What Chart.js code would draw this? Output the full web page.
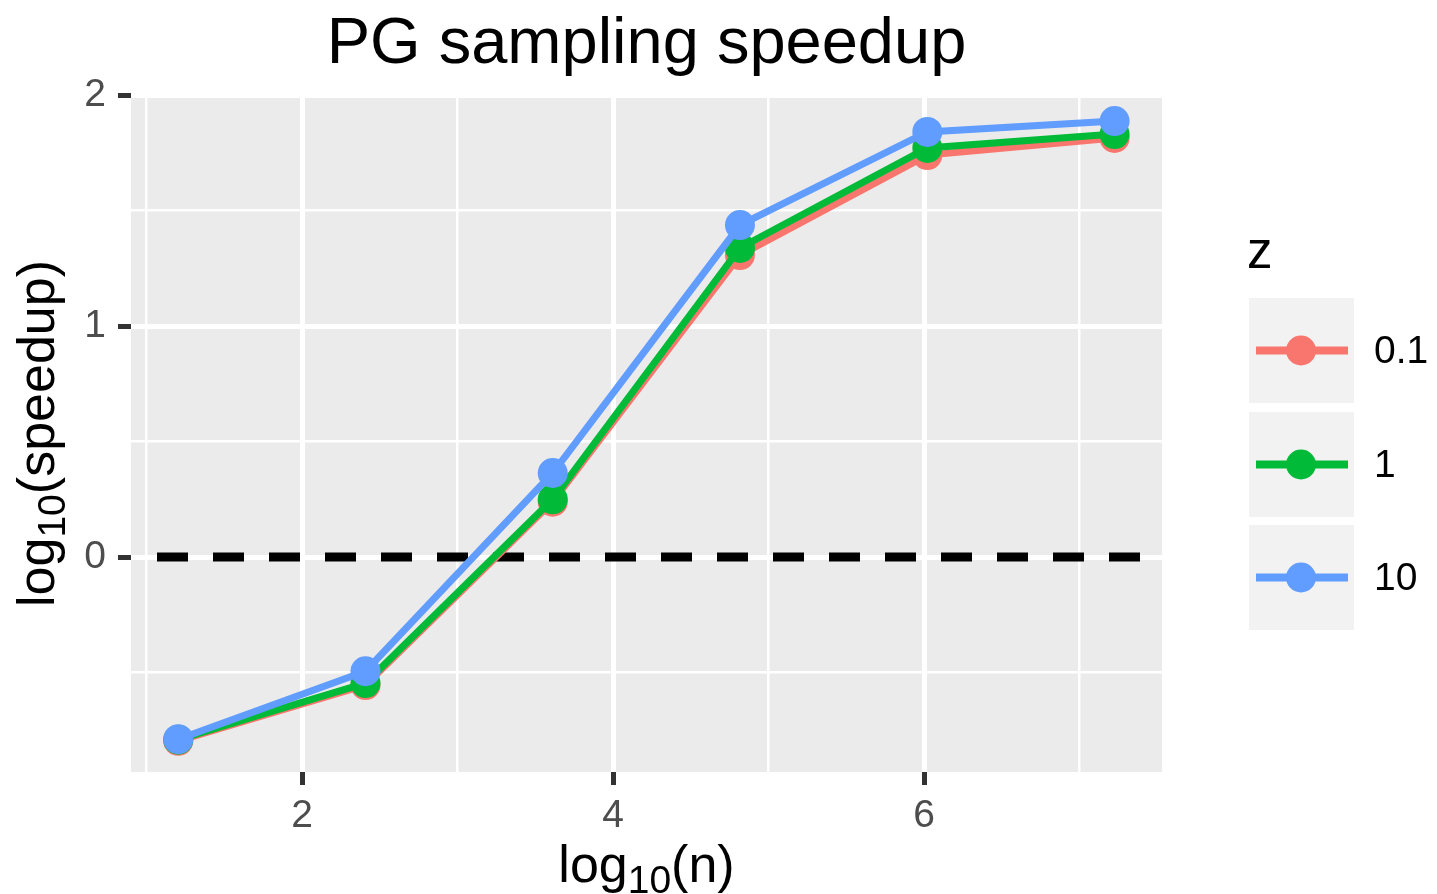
<!DOCTYPE html>
<html>
<head>
<meta charset="utf-8">
<script src="https://cdn.jsdelivr.net/npm/chart.js@4/dist/chart.umd.min.js"></script>
<style>
  html, body { margin: 0; padding: 0; background: #fff; }
  #wrap { width: 1437px; height: 894px; }
</style>
</head>
<body>
<div id="wrap"><canvas id="speedup" width="1437" height="894"></canvas></div>
<script>
// log10(n) for n = 2^4 ... 2^24
const logN = [1.204, 2.408, 3.612, 4.816, 6.021, 7.225];
const zLevels = ["0.1", "1", "10"];
const speedupZ01 = [-0.795, -0.554, 0.240, 1.307, 1.740, 1.814];
const speedupZ1 = [-0.790, -0.545, 0.250, 1.338, 1.771, 1.831];
const speedupZ10 = [-0.788, -0.494, 0.364, 1.437, 1.840, 1.887];
const xTickLabels = [2, 4, 6];
const yTickLabels = [0, 1, 2];

const colors = ["#F8766D", "#00BA38", "#619CFF"];
const FONT = "'Liberation Sans', Arial, Helvetica, sans-serif";

function toPoints(ys) {
    return logN.map((x, i) => ({ x: x, y: ys[i] }));
}

const seriesList = [speedupZ01, speedupZ1, speedupZ10];

// grey panel behind the grid
const panelBg = {
    id: "panelBg",
    beforeDraw(chart) {
        const { ctx, chartArea: a } = chart;
        ctx.save();
        ctx.fillStyle = "#EBEBEB";
        ctx.fillRect(a.left, a.top, a.right - a.left, a.bottom - a.top);
        ctx.restore();
    }
};

// dashed reference line at y = 0
const zeroLine = {
    id: "zeroLine",
    beforeDatasetsDraw(chart) {
        const { ctx, chartArea: a, scales } = chart;
        const y = scales.y.getPixelForValue(0);
        ctx.save();
        ctx.strokeStyle = "#000";
        ctx.lineWidth = 9;
        ctx.setLineDash([31, 25]);
        ctx.beginPath();
        ctx.moveTo(a.left + 26, y);
        ctx.lineTo(a.right, y);
        ctx.stroke();
        ctx.restore();
    }
};

// title, axis titles (with subscripts) and the legend
const annotations = {
    id: "annotations",
    afterDraw(chart) {
        const { ctx, chartArea: a } = chart;
        const cx = (a.left + a.right) / 2;
        const cy = (a.top + a.bottom) / 2;
        ctx.save();
        ctx.fillStyle = "#000";
        ctx.textBaseline = "alphabetic";

        ctx.font = "65px " + FONT;
        ctx.textAlign = "center";
        ctx.fillText("PG sampling speedup", cx, 63);

        function subLabel(pre, sub, post, x, y) {
            ctx.font = "52px " + FONT;
            const w1 = ctx.measureText(pre).width;
            const w3 = ctx.measureText(post).width;
            ctx.font = "39px " + FONT;
            const w2 = ctx.measureText(sub).width;
            let start = x - (w1 + w2 + w3) / 2;
            ctx.textAlign = "left";
            ctx.font = "52px " + FONT;
            ctx.fillText(pre, start, y);
            ctx.font = "39px " + FONT;
            ctx.fillText(sub, start + w1, y + 11);
            ctx.font = "52px " + FONT;
            ctx.fillText(post, start + w1 + w2, y);
        }

        subLabel("log", "10", "(n)", cx, 882);

        ctx.save();
        ctx.translate(54, cy);
        ctx.rotate(-Math.PI / 2);
        subLabel("log", "10", "(speedup)", 0, 0);
        ctx.restore();

        // legend
        ctx.textAlign = "left";
        ctx.font = "51px " + FONT;
        ctx.fillText("z", 1247, 268);
        const boxTop = [298, 412, 525];
        chart.data.datasets.forEach((ds, i) => {
            const top = boxTop[i];
            const midY = top + 52.5;
            ctx.fillStyle = "#F2F2F2";
            ctx.fillRect(1249, top, 105, 105);
            ctx.strokeStyle = ds.borderColor;
            ctx.lineWidth = 8;
            ctx.beginPath();
            ctx.moveTo(1256, midY);
            ctx.lineTo(1348, midY);
            ctx.stroke();
            ctx.fillStyle = ds.borderColor;
            ctx.beginPath();
            ctx.arc(1301, midY, 15, 0, Math.PI * 2);
            ctx.fill();
            ctx.fillStyle = "#000";
            ctx.font = "39px " + FONT;
            ctx.textBaseline = "middle";
            ctx.fillText(ds.label, 1374, midY + 2);
            ctx.textBaseline = "alphabetic";
        });
        ctx.restore();
    }
};

const isMajorX = (v) => xTickLabels.includes(v);
const isMajorY = (v) => yTickLabels.includes(v);

new Chart(document.getElementById("speedup").getContext("2d"), {
    type: "line",
    data: {
        datasets: zLevels.map((z, i) => ({
            label: z,
            data: toPoints(seriesList[i]),
            borderColor: colors[i],
            backgroundColor: colors[i],
            pointBackgroundColor: colors[i],
            borderWidth: 7,
            pointRadius: 15,
            pointBorderWidth: 0,
            tension: 0,
            order: zLevels.length - i
        }))
    },
    options: {
        responsive: false,
        animation: false,
        layout: { padding: { top: 95, right: 275, bottom: 0, left: 0 } },
        plugins: {
            legend: { display: false },
            tooltip: { enabled: false },
            title: { display: false }
        },
        scales: {
            x: {
                type: "linear",
                min: 0.9,
                max: 7.53,
                border: { display: false },
                afterFit(scale) { scale.height = 122; },
                grid: {
                    color: "#FFFFFF",
                    lineWidth: (c) => isMajorX(c.tick.value) ? 5 : 2.5,
                    tickColor: (c) => isMajorX(c.tick.value) ? "#333333" : "rgba(0,0,0,0)",
                    tickWidth: 5,
                    tickLength: 13
                },
                ticks: {
                    stepSize: 1,
                    includeBounds: false,
                    autoSkip: false,
                    maxRotation: 0,
                    padding: 8,
                    color: "#4D4D4D",
                    font: { family: FONT, size: 39 },
                    callback: (v) => isMajorX(v) ? String(v) : ""
                }
            },
            y: {
                type: "linear",
                min: -0.93,
                max: 2,
                border: { display: false },
                afterFit(scale) { scale.width = 131; },
                grid: {
                    color: "#FFFFFF",
                    lineWidth: (c) => isMajorY(c.tick.value) ? 5 : 2.5,
                    tickColor: (c) => isMajorY(c.tick.value) ? "#333333" : "rgba(0,0,0,0)",
                    tickWidth: 5,
                    tickLength: 13
                },
                ticks: {
                    stepSize: 0.5,
                    includeBounds: false,
                    autoSkip: false,
                    padding: 12,
                    color: "#4D4D4D",
                    font: { family: FONT, size: 39 },
                    callback: (v) => isMajorY(v) ? String(v) : ""
                }
            }
        }
    },
    plugins: [panelBg, zeroLine, annotations]
});
</script>
</body>
</html>
